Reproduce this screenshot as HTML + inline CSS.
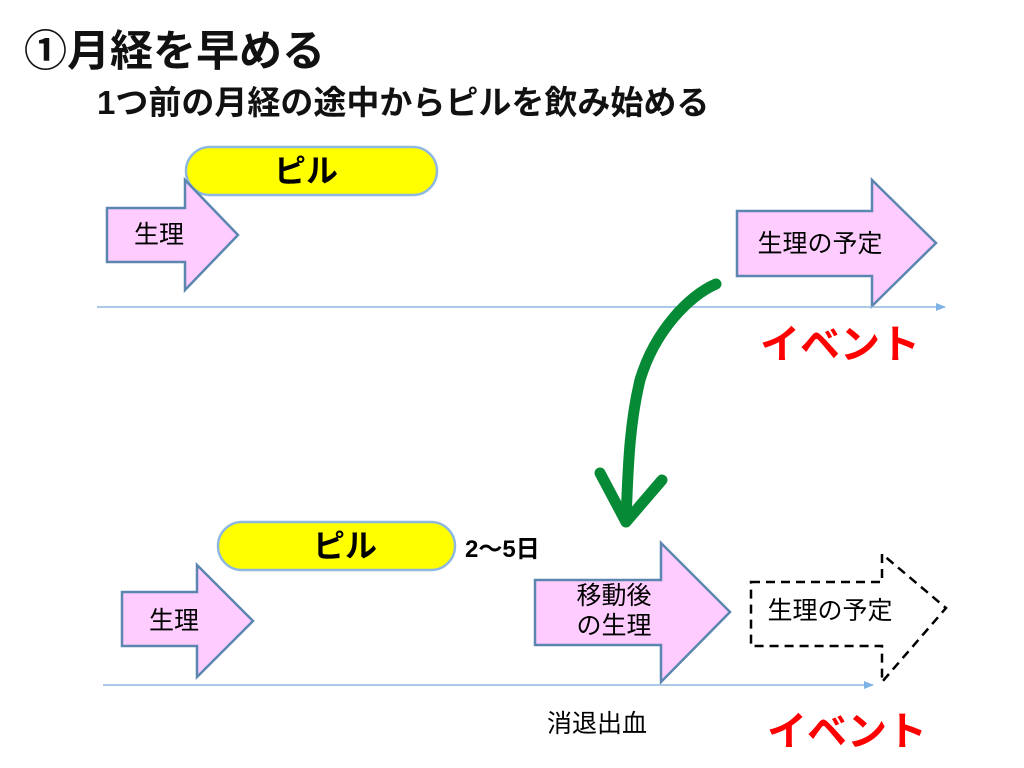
<!DOCTYPE html>
<html><head><meta charset="utf-8"><style>
html,body{margin:0;padding:0;background:#fff;}
svg{display:block;font-family:"Liberation Sans","Noto Sans CJK JP",sans-serif;}
</style></head><body>
<svg width="1024" height="768" viewBox="0 0 1024 768" xmlns="http://www.w3.org/2000/svg">
<defs>
<marker id="ax" markerWidth="10" markerHeight="8" refX="9" refY="4" orient="auto" markerUnits="userSpaceOnUse">
<path d="M0,0 L10,4 L0,8 Z" fill="#7fb2e5"/></marker>
</defs>
<text x="24" y="66" font-size="43" font-weight="bold" fill="#111">①月経を早める</text>
<text x="97" y="114" font-size="33" font-weight="bold" fill="#111">1つ前の月経の途中からピルを飲み始める</text>

<!-- top -->
<rect x="186" y="147" width="251" height="48" rx="24" fill="#ffff00" stroke="#8fb8e0" stroke-width="2.5"/>
<text x="306" y="182" font-size="32" font-weight="bold" text-anchor="middle">ピル</text>
<path d="M107,208 L185,208 L185,180 L238,235 L185,290 L185,262 L107,262 Z" fill="#ffccff" stroke="#5b86b0" stroke-width="2.5"/>
<text x="159" y="243" font-size="25" text-anchor="middle">生理</text>
<path d="M737,211 L872,211 L872,180 L936,243 L872,306 L872,276 L737,276 Z" fill="#ffccff" stroke="#5b86b0" stroke-width="2.5"/>
<text x="820" y="252" font-size="25" text-anchor="middle">生理の予定</text>
<line x1="97" y1="307" x2="945" y2="307" stroke="#8fb8e0" stroke-width="1.5" marker-end="url(#ax)"/>
<text x="840" y="358" font-size="40" font-weight="bold" fill="#ff0000" text-anchor="middle">イベント</text>

<!-- green arrow -->
<path d="M716,284 C690,295 655,330 640,380 C628,430 628,480 626,518" fill="none" stroke="#078a36" stroke-width="11" stroke-linecap="round"/>
<path d="M600,473 L626,522 L662,480" fill="none" stroke="#078a36" stroke-width="11" stroke-linecap="round" stroke-linejoin="round"/>

<!-- bottom -->
<rect x="218" y="522" width="237" height="48" rx="24" fill="#ffff00" stroke="#8fb8e0" stroke-width="2.5"/>
<text x="345" y="557" font-size="32" font-weight="bold" text-anchor="middle">ピル</text>
<text x="465" y="557" font-size="24" font-weight="bold">2〜5日</text>
<path d="M122,592 L197,592 L197,565 L253,621 L197,677 L197,646 L122,646 Z" fill="#ffccff" stroke="#5b86b0" stroke-width="2.5"/>
<text x="174" y="629" font-size="25" text-anchor="middle">生理</text>
<path d="M535,580 L661,580 L661,543 L730,612 L661,682 L661,645 L535,645 Z" fill="#ffccff" stroke="#5b86b0" stroke-width="2.5"/>
<text x="614" y="604" font-size="25" text-anchor="middle">移動後</text>
<text x="614" y="634" font-size="25" text-anchor="middle">の生理</text>
<path d="M751,582 L882,582 L882,554 L946,608 L882,682 L882,646 L751,646 Z" fill="none" stroke="#000" stroke-width="2.5" stroke-dasharray="9,6"/>
<text x="830" y="619" font-size="25" text-anchor="middle">生理の予定</text>
<line x1="103" y1="685" x2="873" y2="685" stroke="#8fb8e0" stroke-width="1.5" marker-end="url(#ax)"/>
<text x="597" y="732" font-size="25" text-anchor="middle">消退出血</text>
<text x="847" y="745" font-size="40" font-weight="bold" fill="#ff0000" text-anchor="middle">イベント</text>
</svg>
</body></html>
